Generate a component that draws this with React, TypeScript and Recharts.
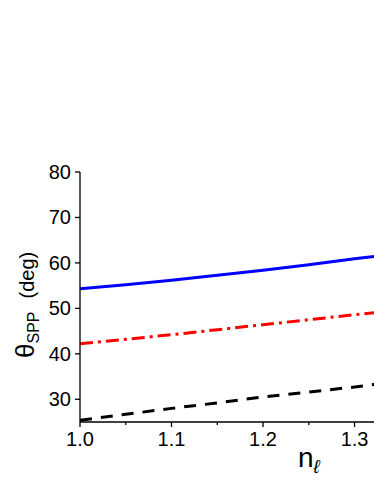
import React from 'react';
import { LineChart, Line, XAxis, YAxis } from 'recharts';

const nValues = [1.0, 1.05, 1.1, 1.15, 1.2, 1.25, 1.3, 1.33];
const blueTheta = [54.3, 55.2, 56.2, 57.3, 58.4, 59.6, 60.9, 61.6];
const redTheta = [42.2, 43.2, 44.2, 45.3, 46.4, 47.5, 48.6, 49.2];
const blackTheta = [25.4, 26.7, 28.0, 29.2, 30.5, 31.6, 32.7, 33.5];

const xMajorTicks = [1.0, 1.1, 1.2, 1.3];
const xMinorTicks = [1.05, 1.15, 1.25];
const yMajorTicks = [30, 40, 50, 60, 70, 80];
const yMinorTicks = [25, 35, 45, 55, 65, 75];

const xTicks = [...xMajorTicks, ...xMinorTicks].sort((a, b) => a - b);
const yTicks = [...yMajorTicks, ...yMinorTicks].sort((a, b) => a - b);

const data = nValues.map((n, i) => ({
  n,
  blue: blueTheta[i],
  red: redTheta[i],
  black: blackTheta[i],
}));

const FONT = '"Liberation Sans", Arial, sans-serif';
const AX = 1.3;

const isMajorX = (v: number) => xMajorTicks.some((t) => Math.abs(t - v) < 1e-6);
const isMajorY = (v: number) => yMajorTicks.some((t) => Math.abs(t - v) < 1e-6);

const BottomTick = (props: any) => {
  const { x, y, payload } = props;
  const v = payload.value;
  const major = isMajorX(v);
  return (
    <g>
      <line x1={x} x2={x} y1={y} y2={y + (major ? 5 : 3)} stroke="#000" strokeWidth={AX} />
      {major && (
        <text x={x} y={y + 24} textAnchor="middle" fontSize={20} fontFamily={FONT} fill="#000">
          {v.toFixed(1)}
        </text>
      )}
    </g>
  );
};

const TopTick = (props: any) => {
  const { x, y, payload } = props;
  const major = isMajorX(payload.value);
  return <line x1={x} x2={x} y1={y} y2={y + (major ? 5 : 2.5)} stroke="#000" strokeWidth={AX} />;
};

const LeftTick = (props: any) => {
  const { x, y, payload } = props;
  const v = payload.value;
  const major = isMajorY(v);
  return (
    <g>
      <line x1={x} x2={x - (major ? 5 : 3)} y1={y} y2={y} stroke="#000" strokeWidth={AX} />
      {major && (
        <text x={x - 9} y={y + 7} textAnchor="end" fontSize={20} fontFamily={FONT} fill="#000">
          {v}
        </text>
      )}
    </g>
  );
};

export default function App() {
  return (
    <div style={{ position: 'absolute', left: 0, top: 0, width: 374, height: 484, overflow: 'hidden', background: '#fff' }}>
      <LineChart width={382} height={484} data={data} margin={{ top: 172, right: 0, bottom: 22, left: 0 }}>
        <XAxis
          dataKey="n"
          type="number"
          domain={[1.0, 1.33]}
          ticks={xTicks}
          tick={<BottomTick />}
          tickLine={false}
          tickSize={0}
          tickMargin={0}
          height={40}
          axisLine={{ stroke: '#000', strokeWidth: AX }}
          allowDataOverflow
        />
        <XAxis
          xAxisId="top"
          orientation="top"
          dataKey="n"
          type="number"
          domain={[1.0, 1.33]}
          ticks={xTicks}
          tick={<TopTick />}
          tickLine={false}
          tickSize={0}
          tickMargin={0}
          height={0}
          axisLine={{ stroke: '#000', strokeWidth: AX }}
          allowDataOverflow
        />
        <YAxis
          type="number"
          domain={[25, 80]}
          ticks={yTicks}
          tick={<LeftTick />}
          tickLine={false}
          tickSize={0}
          tickMargin={0}
          width={80}
          axisLine={{ stroke: '#000', strokeWidth: AX }}
          allowDataOverflow
        />
        <Line dataKey="blue" stroke="#0000ff" strokeWidth={3} dot={false} isAnimationActive={false} />
        <Line dataKey="red" stroke="#ff0000" strokeWidth={3} strokeDasharray="13 5 3 5" dot={false} isAnimationActive={false} />
        <Line dataKey="black" stroke="#000000" strokeWidth={3} strokeDasharray="12 9" dot={false} isAnimationActive={false} />
      </LineChart>
      <svg width={374} height={484} style={{ position: 'absolute', left: 0, top: 0, pointerEvents: 'none' }}>
        <text transform="translate(34,358) rotate(-90)" textAnchor="start" fontFamily={FONT} fill="#000">
          <tspan fontSize={26}>θ</tspan>
          <tspan fontSize={16} dy={5}>SPP</tspan>
          <tspan fontSize={20} dy={-5} dx={13}>(deg)</tspan>
        </text>
        <text x={298} y={467} fontFamily={FONT} fill="#000">
          <tspan fontSize={28}>n</tspan>
          <tspan fontSize={19} dy={6} fontStyle="italic">ℓ</tspan>
        </text>
      </svg>
    </div>
  );
}
